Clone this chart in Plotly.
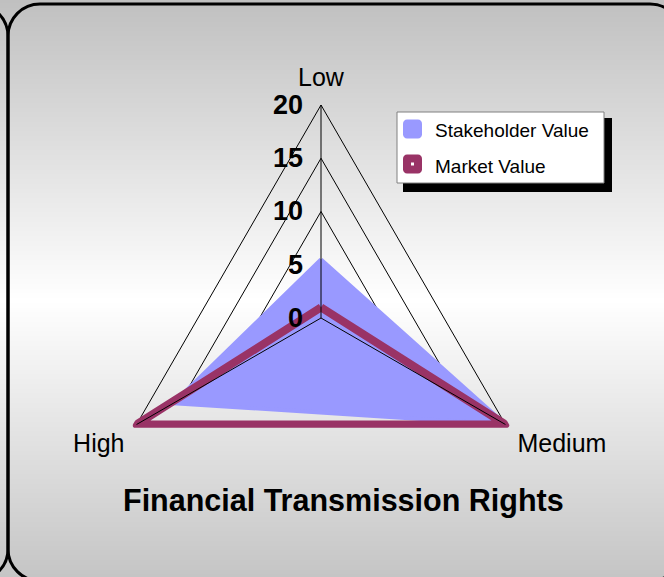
import base64
import struct
import zlib

import plotly.graph_objects as go

# ---------------- data ----------------
categories = ["Low", "Medium", "High"]
stakeholder_value = [5.5, 20, 16]
market_value = [1, 20, 20]
radial_ticks = [0, 5, 10, 15, 20]
series_names = ["Stakeholder Value", "Market Value"]
title_text = "Financial Transmission Rights"

W, H = 664, 577
FONT = "Liberation Sans, Arial, sans-serif"
R_MAX = 20.6  # a little headroom so thick outline strokes are not clipped


def X(px):
    return px / W


def Y(py):
    return 1 - py / H


def roundrect_path(x0, y0, x1, y1, r):
    k = 0.5523 * r
    pts = [
        f"M {X(x0)},{Y(y0 + r)}",
        f"C {X(x0)},{Y(y0 + r - k)} {X(x0 + r - k)},{Y(y0)} {X(x0 + r)},{Y(y0)}",
        f"L {X(x1 - r)},{Y(y0)}",
        f"C {X(x1 - r + k)},{Y(y0)} {X(x1)},{Y(y0 + r - k)} {X(x1)},{Y(y0 + r)}",
        f"L {X(x1)},{Y(y1 - r)}",
        f"C {X(x1)},{Y(y1 - r + k)} {X(x1 - r + k)},{Y(y1)} {X(x1 - r)},{Y(y1)}",
        f"L {X(x0 + r)},{Y(y1)}",
        f"C {X(x0 + r - k)},{Y(y1)} {X(x0)},{Y(y1 - r + k)} {X(x0)},{Y(y1 - r)}",
        "Z",
    ]
    return " ".join(pts)


def gradient_png():
    rows = []
    for y in range(H):
        t = 1 - abs(y - 300) / 300
        v = int(round(192 + 63 * max(0, t)))
        rows.append(b"\x00" + bytes([v] * 4))
    raw = b"".join(rows)

    def chunk(tag, data):
        c = struct.pack(">I", len(data)) + tag + data
        return c + struct.pack(">I", zlib.crc32(tag + data) & 0xFFFFFFFF)

    ihdr = struct.pack(">IIBBBBB", 4, H, 8, 0, 0, 0, 0)
    png = (b"\x89PNG\r\n\x1a\n" + chunk(b"IHDR", ihdr)
           + chunk(b"IDAT", zlib.compress(raw)) + chunk(b"IEND", b""))
    return "data:image/png;base64," + base64.b64encode(png).decode()


fig = go.Figure()

fig.add_trace(go.Scatterpolar(
    r=stakeholder_value + stakeholder_value[:1],
    theta=categories + categories[:1],
    mode="lines", fill="toself", fillcolor="#9999ff",
    line=dict(color="#9999ff", width=4),
    name=series_names[0], showlegend=False,
))
fig.add_trace(go.Scatterpolar(
    r=market_value + market_value[:1],
    theta=categories + categories[:1],
    mode="lines",
    line=dict(color="#993366", width=8),
    name=series_names[1], showlegend=False,
))

# axis spokes drawn above the series (as in the original chart)
spoke_r, spoke_t = [], []
for c in categories:
    spoke_r += [radial_ticks[0], radial_ticks[-1], None]
    spoke_t += [c, c, None]
fig.add_trace(go.Scatterpolar(
    r=spoke_r, theta=spoke_t, mode="lines",
    line=dict(color="black", width=1),
    hoverinfo="skip", showlegend=False,
))

cx, cy = 321, 318
R = 213 * R_MAX / radial_ticks[-1]
fig.update_layout(
    width=W, height=H,
    margin=dict(l=0, r=0, t=0, b=0, pad=0),
    paper_bgcolor="#c8c8c8",
    showlegend=False,
    polar=dict(
        domain=dict(x=[X(cx - R), X(cx + R)], y=[Y(cy + R), Y(cy - R)]),
        bgcolor="rgba(0,0,0,0)",
        gridshape="linear",
        radialaxis=dict(
            range=[radial_ticks[0], R_MAX],
            tickvals=radial_ticks,
            ticktext=[str(v) for v in radial_ticks],
            angle=90, side="counterclockwise", tickangle=90,
            showline=False,
            ticks="outside", ticklen=8, tickcolor="rgba(0,0,0,0)",
            gridcolor="black", gridwidth=1,
            tickfont=dict(family=FONT, size=27, color="black", weight="bold"),
        ),
        angularaxis=dict(
            categoryarray=categories, type="category",
            rotation=90, direction="clockwise",
            showline=False, showgrid=False,
            ticks="outside", ticklen=2, tickcolor="rgba(0,0,0,0)",
            tickfont=dict(family=FONT, size=25, color="black"),
        ),
    ),
    images=[dict(
        source=gradient_png(), xref="paper", yref="paper",
        x=0, y=1, sizex=1, sizey=1, xanchor="left", yanchor="top",
        sizing="stretch", layer="below",
    )],
)

shapes = []
# outer rounded frame and neighbour frame edge
shapes.append(dict(type="path", path=roundrect_path(8, 4, 682, 581, 32),
                   xref="paper", yref="paper", line=dict(color="black", width=3),
                   fillcolor="rgba(0,0,0,0)", layer="above"))
shapes.append(dict(type="path", path=roundrect_path(-300, 4, 8, 581, 32),
                   xref="paper", yref="paper", line=dict(color="black", width=3),
                   fillcolor="rgba(0,0,0,0)", layer="above"))
# legend box with shadow
shapes.append(dict(type="rect", xref="paper", yref="paper",
                   x0=X(403), x1=X(612), y0=Y(192), y1=Y(118),
                   fillcolor="black", line=dict(width=0), layer="above"))
shapes.append(dict(type="rect", xref="paper", yref="paper",
                   x0=X(397), x1=X(604), y0=Y(183), y1=Y(112),
                   fillcolor="white", line=dict(color="#808080", width=1), layer="above"))
legend_colors = ["#9999ff", "#993366"]
legend_y = [129, 164]
for col, ly in zip(legend_colors, legend_y):
    shapes.append(dict(type="path", path=roundrect_path(403, ly - 9.5, 422, ly + 9.5, 4),
                       xref="paper", yref="paper", fillcolor=col,
                       line=dict(width=0), layer="above"))
shapes.append(dict(type="rect", xref="paper", yref="paper",
                   x0=X(411), x1=X(414), y0=Y(legend_y[1] + 1.5), y1=Y(legend_y[1] - 1.5),
                   fillcolor="white", line=dict(width=0), layer="above"))
fig.update_layout(shapes=shapes)

annotations = []
for name, ly in zip(series_names, legend_y):
    annotations.append(dict(text=name, xref="paper", yref="paper",
                            x=X(433), y=Y(ly + 2), xanchor="left", yanchor="middle",
                            showarrow=False, font=dict(family=FONT, size=19, color="black")))
annotations.append(dict(text=title_text, xref="paper", yref="paper",
                        x=X(343), y=Y(500), xanchor="center", yanchor="middle",
                        showarrow=False,
                        font=dict(family=FONT, size=30.5, color="black", weight="bold")))
fig.update_layout(annotations=annotations)

fig.write_html(
    "out.html",
    config={"displayModeBar": False},
    post_script=(
        "document.body.style.margin='0';document.body.style.overflow='hidden';"
        "document.querySelectorAll('.scatterlayer path').forEach(function(p){"
        "p.style.strokeLinejoin='round';});"
    ),
)
